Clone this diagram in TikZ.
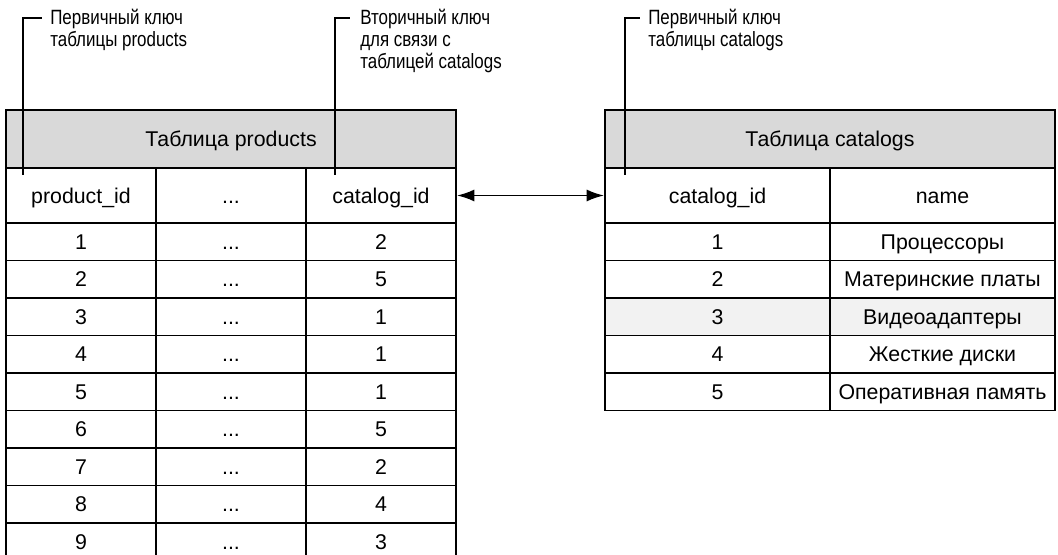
\documentclass[tikz,border=0pt]{standalone}
\usepackage{fontspec}
\setmainfont{Liberation Sans}
\newfontfamily\narrowfont[FakeStretch=0.82]{Liberation Sans}
\usetikzlibrary{arrows.meta,positioning}
\definecolor{headgray}{HTML}{D9D9D9}
\definecolor{rowgray}{HTML}{F2F2F2}

\begin{document}
\begin{tikzpicture}[
    x=0.75pt,y=-0.75pt,
    cell/.style={draw,line width=1.4pt,inner sep=0pt,minimum height=28.125pt,
        text height=11.5pt,text depth=0pt,font=\fontsize{16}{18}\selectfont},
    head/.style={cell,fill=headgray,minimum height=43.5pt,minimum width=337.5pt},
    colhead/.style={cell,minimum height=41.25pt},
    note/.style={align=left,inner sep=0pt,anchor=north west,font=\narrowfont\fontsize{15.5}{16.5}\selectfont},
    ptr/.style={line width=1.4pt},
    arr/.style={{Latex[length=13pt,width=9pt]}-{Latex[length=13pt,width=9pt]},line width=1.4pt}
]
\useasboundingbox (0,0) rectangle (1058,555);

% table products
\node[head] (p-head) at (231,139) {Таблица products};
\node[colhead,minimum width=112.5pt] (p-id) at (81,195.5) {product\_id};
\node[colhead,minimum width=112.5pt] (p-dots) at (231,195.5) {...};
\node[colhead,minimum width=112.5pt] (p-cid) at (381,195.5) {catalog\_id};
\foreach \cat [count=\i] in {2,5,1,1,1,5,2,4,3} {
    \node[cell,minimum width=112.5pt] (p-\i-1) at (81,{223+37.5*(\i-0.5)}) {\i};
    \node[cell,minimum width=112.5pt] (p-\i-2) at (231,{223+37.5*(\i-0.5)}) {...};
    \node[cell,minimum width=112.5pt] (p-\i-3) at (381,{223+37.5*(\i-0.5)}) {\cat};
}

% table catalogs
\node[head] (c-head) at (830,139) {Таблица catalogs};
\node[colhead,minimum width=168.75pt] (c-cid) at (717.5,195.5) {catalog\_id};
\node[colhead,minimum width=168.75pt] (c-name) at (942.5,195.5) {name};
\foreach \name/\bg [count=\i] in {Процессоры/white,Материнские платы/white,Видеоадаптеры/rowgray,Жесткие диски/white,Оперативная память/white} {
    \node[cell,fill=\bg,minimum width=168.75pt] (c-\i-1) at (717.5,{223+37.5*(\i-0.5)}) {\i};
    \node[cell,fill=\bg,minimum width=168.75pt] (c-\i-2) at (942.5,{223+37.5*(\i-0.5)}) {\name};
}

% link between the keys
\draw[arr] (p-cid.east) -- (c-cid.west);

% notes
\node[note] (n-pk-prod) at (50,9) {Первичный ключ\\таблицы products};
\node[note] (n-fk) at (360,9) {Вторичный ключ\\для связи с\\таблицей catalogs};
\node[note] (n-pk-cat) at (648,9) {Первичный ключ\\таблицы catalogs};
\coordinate (e-pk-prod) at (23,175);
\coordinate (e-fk) at (335,175);
\coordinate (e-pk-cat) at (625,175);
\draw[ptr] (e-pk-prod) |- ([xshift=-6pt,yshift=-6.5pt]n-pk-prod.north west);
\draw[ptr] (e-fk) |- ([xshift=-7.5pt,yshift=-6.5pt]n-fk.north west);
\draw[ptr] (e-pk-cat) |- ([xshift=-6pt,yshift=-6.5pt]n-pk-cat.north west);
\end{tikzpicture}
\end{document}
